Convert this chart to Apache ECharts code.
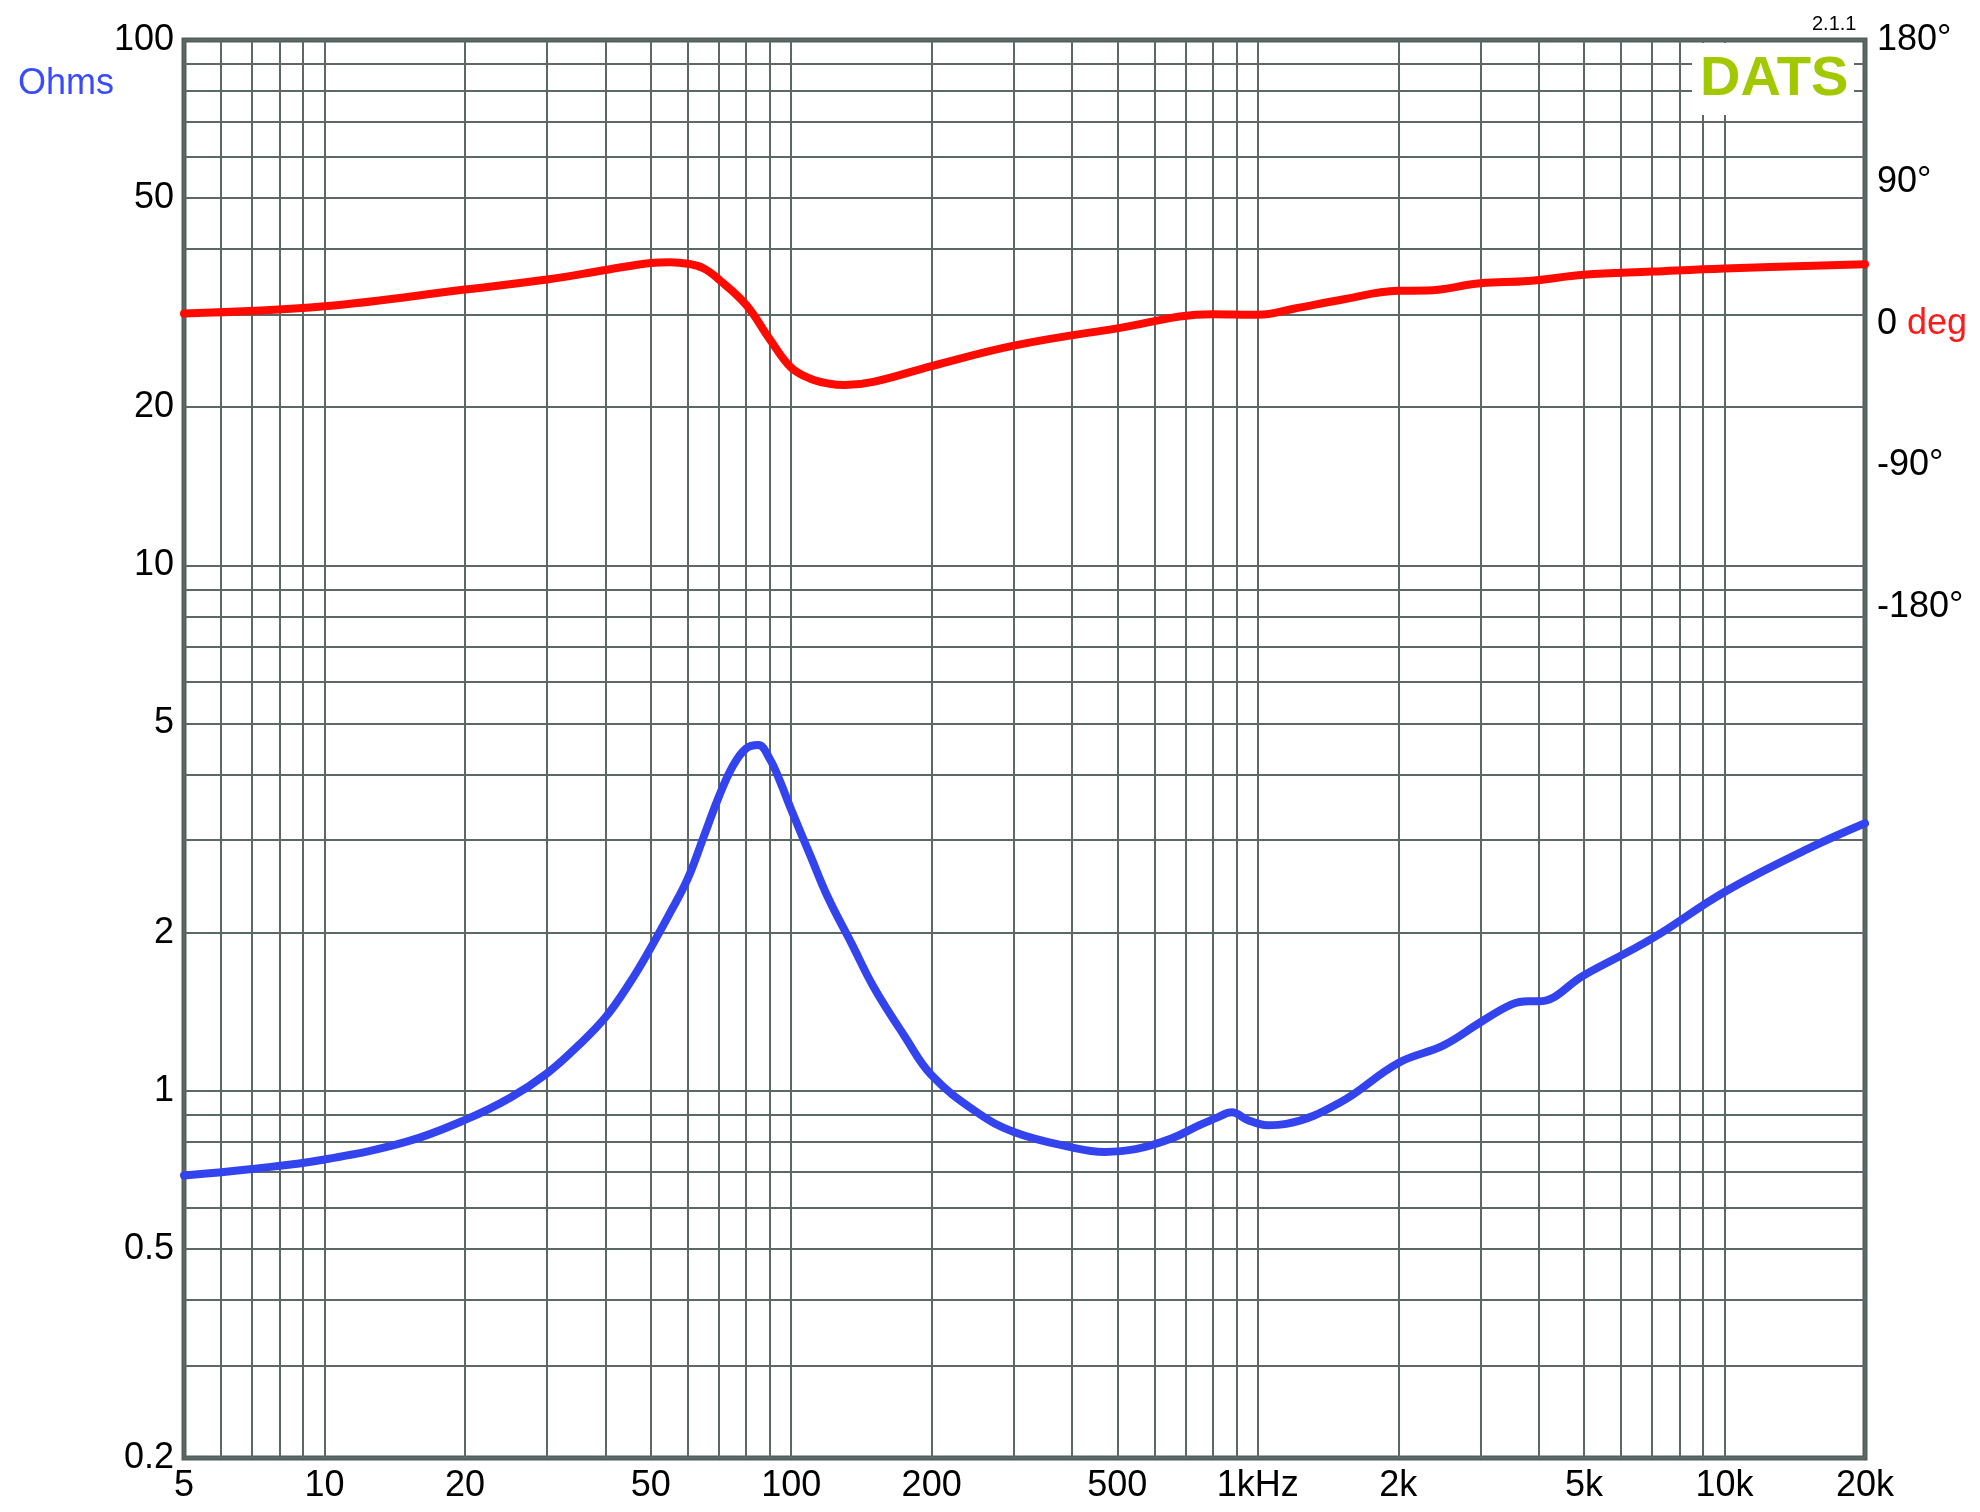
<!DOCTYPE html>
<html><head><meta charset="utf-8">
<script src="https://cdn.jsdelivr.net/npm/echarts@6/dist/echarts.min.js"></script>
<style>html,body{margin:0;padding:0;background:#fff}#c{width:1980px;height:1512px}</style>
</head><body><div id="c"></div>
<script>
const impFreq = [5,7,10,15,20,25,30,35,40,45,50,55,60,65,70,75,80,85,90,95,100,110,120,135,150,175,200,250,300,400,470,550,650,750,820,880,950,1050,1150,1500,2000,2500,3000,3500,3800,4000,5000,7000,10000,15000,20000];
const impOhm  = [0.69,0.71,0.74,0.80,0.88,0.97,1.08,1.22,1.38,1.60,1.87,2.18,2.53,3.05,3.63,4.15,4.48,4.55,4.28,3.85,3.43,2.80,2.33,1.90,1.58,1.27,1.07,0.91,0.835,0.78,0.765,0.775,0.81,0.86,0.89,0.91,0.88,0.86,0.865,0.95,1.13,1.22,1.35,1.46,1.48,1.48,1.66,1.95,2.39,2.88,3.23];
const phFreq = [5,10,20,30,40,50,55,60,65,70,80,90,100,110,120,130,150,200,300,500,800,1000,1200,1500,2000,2300,3000,3800,5000,7000,10000,20000];
const phDeg  = [6.4,11,21.6,28,34,38.5,39,38,35,28,12,-10,-28,-35,-38,-39,-37,-27,-14,-3,6,5.6,9.6,15,20.8,21,25.6,27,31,33,35,37.6];
const gridF = [5,6,7,8,9,10,20,30,40,50,60,70,80,90,100,200,300,400,500,600,700,800,900,1000,2000,3000,4000,5000,6000,7000,8000,9000,10000,20000];
const xLabels = {5:'5',10:'10',20:'20',50:'50',100:'100',200:'200',500:'500',1000:'1kHz',2000:'2k',5000:'5k',10000:'10k',20000:'20k'};
const gridO = [0.2,0.3,0.4,0.5,0.6,0.7,0.8,0.9,1,2,3,4,5,6,7,8,9,10,20,30,40,50,60,70,80,90,100];
const yLabels = {0.2:'0.2',0.5:'0.5',1:'1',2:'2',5:'5',10:'10',20:'20',50:'50',100:'100'};
const phTicks = {180:'180°',90:'90°',0:'{n|0} {d|deg}','-90':'-90°','-180':'-180°'};

const GC = '#5b6866', F = 'Liberation Sans';
const vLines = gridF.map(f => [{coord:[f,0.2], label:{show:!!xLabels[f], formatter:xLabels[f]||''}},{coord:[f,100]}]);
const hLines = gridO.map(v => [{coord:[5,v], label:{show:!!yLabels[v], formatter:yLabels[v]||''}},{coord:[20000,v]}]);

const chart = echarts.init(document.getElementById('c'));
chart.setOption({
  animation:false,
  grid:{left:184,right:115,top:40,bottom:54,show:true,borderColor:'#505e5c',borderWidth:5,backgroundColor:'transparent'},
  xAxis:{type:'log',min:5,max:20000,axisLine:{show:false},axisTick:{show:false},axisLabel:{show:false},splitLine:{show:false}},
  yAxis:[
    {type:'log',min:0.2,max:100,axisLine:{show:false},axisTick:{show:false},axisLabel:{show:false},splitLine:{show:false}},
    {type:'value',min:-720,max:180,interval:90,position:'right',axisLine:{show:false},axisTick:{show:false},splitLine:{show:false},
     axisLabel:{margin:12,fontFamily:F,fontSize:36,color:'#000',formatter:v=>phTicks[v]||'',
       rich:{n:{fontFamily:F,fontSize:36,color:'#000'},d:{fontFamily:F,fontSize:36,color:'#ff1a1a'}}}}
  ],
  series:[
    {type:'line',data:[],markLine:{silent:true,symbol:'none',animation:false,
      lineStyle:{color:GC,width:2,type:'solid'},
      label:{position:'start',fontFamily:F,fontSize:36,color:'#000',distance:10},
      data:vLines.concat(hLines)}},
    {type:'line',yAxisIndex:1,data:phFreq.map((f,i)=>[f,phDeg[i]]),smooth:0.4,showSymbol:false,
      lineStyle:{color:'#ff0a00',width:8,cap:'round'},z:5},
    {type:'line',yAxisIndex:0,data:impFreq.map((f,i)=>[f,impOhm[i]]),smooth:0.4,showSymbol:false,
      lineStyle:{color:'#3344ee',width:8,cap:'round'},z:5}
  ],
  graphic:[
    {type:'rect',shape:{x:1692,y:43,width:162,height:72},style:{fill:'#fff'},z:50},
    {type:'text',x:1700,y:52,style:{text:'DATS',font:'bold 56px "Liberation Sans"',fill:'#a2c800'},z:51},
    {type:'text',x:1812,y:14,style:{text:'2.1.1',font:'20px "Liberation Sans"',fill:'#000'},z:51},
    {type:'text',x:18,y:66,style:{text:'Ohms',font:'36px "Liberation Sans"',fill:'#3a4bff'},z:51}
  ]
});
</script></body></html>
